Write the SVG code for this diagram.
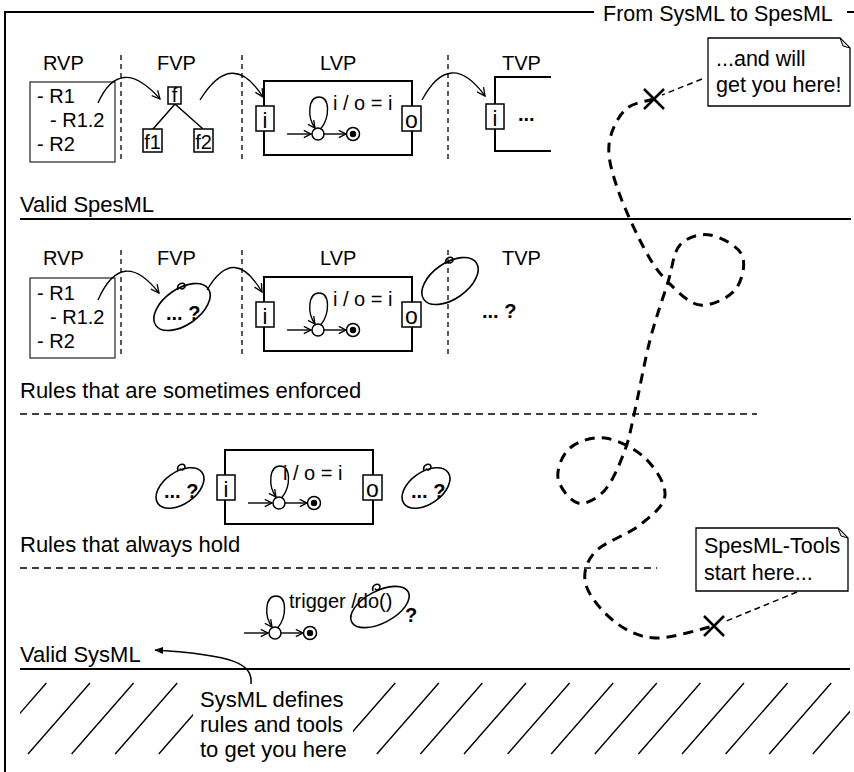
<svg xmlns="http://www.w3.org/2000/svg" xmlns:xlink="http://www.w3.org/1999/xlink" width="854" height="772" viewBox="0 0 854 772">
<style>
text { font-family: "Liberation Sans", Arial, sans-serif; fill: #000; }
.t22 { font-size: 22px; }
.tn { font-size: 21.5px; }
.t20 { font-size: 20px; }
.pi { font-size: 22px; }
.po { font-size: 23px; }
.b { font-weight: bold; }
.frame { fill: none; stroke: #000; stroke-width: 2; }
.sep { fill: none; stroke: #000; stroke-width: 2; }
.dsep { fill: none; stroke: #000; stroke-width: 1.5; stroke-dasharray: 7 5; }
.vdash { fill: none; stroke: #000; stroke-width: 1.3; stroke-dasharray: 5 4; }
.rbox { fill: none; stroke: #222; stroke-width: 1.2; }
.box { fill: #fff; stroke: #000; stroke-width: 1.5; }
.lbox { fill: none; stroke: #000; stroke-width: 2; }
.port { fill: #fff; stroke: #000; stroke-width: 1.5; }
.ln { fill: none; stroke: #000; stroke-width: 1.5; }
.arc { fill: none; stroke: #000; stroke-width: 1.3; marker-end: url(#open); }
.sma { fill: none; stroke: #000; stroke-width: 1.4; marker-end: url(#small); }
.st { fill: #fff; stroke: #000; stroke-width: 1.5; }
.path { fill: none; stroke: #000; stroke-width: 3; stroke-dasharray: 10 7; }
.thin { fill: none; stroke: #000; stroke-width: 1.5; stroke-dasharray: 6 4; }
.xm { fill: none; stroke: #000; stroke-width: 2.5; }
.blob { fill: none; stroke: #000; stroke-width: 1.6; }
.hatch { stroke: #000; stroke-width: 1.4; }
.note { fill: #fff; stroke: #000; stroke-width: 1.3; }
.fold { fill: #ddd; stroke: #000; stroke-width: 1; }
</style>
<defs>
  <marker id="open" viewBox="0 0 10 10" refX="9" refY="5" markerWidth="10" markerHeight="10" markerUnits="userSpaceOnUse" orient="auto">
    <path d="M1,1 L9,5 L1,9" fill="none" stroke="#000" stroke-width="1.3"/>
  </marker>
  <marker id="small" viewBox="0 0 10 10" refX="9" refY="5" markerWidth="9" markerHeight="9" markerUnits="userSpaceOnUse" orient="auto">
    <path d="M1,1 L9,5 L1,9" fill="none" stroke="#000" stroke-width="1.5"/>
  </marker>
  <marker id="solid" viewBox="0 0 10 10" refX="9" refY="5" markerWidth="9" markerHeight="9" markerUnits="userSpaceOnUse" orient="auto">
    <path d="M0,1 L10,5 L0,9 Z" fill="#000"/>
  </marker>
  <clipPath id="hc"><rect x="20" y="672" width="830" height="100"/></clipPath>
  <g id="sm">
    <path class="sma" d="M23,53 H47"/>
    <path class="sma" d="M57,47.5 C66,36 66,16 55,16 C44,16 43,36 51,47"/>
    <circle class="st" cx="54" cy="53" r="6"/>
    <path class="sma" d="M60,53 H82"/>
    <circle class="st" cx="89" cy="53" r="6.5"/>
    <circle cx="89" cy="53" r="3.2" fill="#000"/>
  </g>
  <g id="lvpshape">
    <rect class="lbox" x="0" y="0" width="148" height="74"/>
    <rect class="port" x="-8" y="25" width="18" height="25"/>
    <rect class="port" x="138" y="25" width="19" height="25"/>
    <use xlink:href="#sm" href="#sm"/>
  </g>
  <path id="curl" class="blob" d="M-4,-17 C-6,-24 3,-26 3,-21 C3,-18 -1,-17 -2,-19.5"/>
</defs>

<!-- frame -->
<g id="frame">
  <path class="frame" d="M5,772 V12 H594"/>
  <path class="frame" d="M847,12 H854"/>
  <text class="tn" x="603" y="21">From SysML to SpesML</text>
</g>

<!-- section separators -->
<g id="levels">
  <text class="t22" x="20" y="212">Valid SpesML</text>
  <path class="sep" d="M20,219 H851"/>
  <text class="t22" x="20" y="398">Rules that are sometimes enforced</text>
  <path class="dsep" d="M20,414 H757"/>
  <text class="t22" x="20" y="552">Rules that always hold</text>
  <path class="dsep" d="M20,568 H657"/>
  <text class="t22" x="20" y="662">Valid SysML</text>
  <path class="sep" d="M20,669 H850"/>
</g>

<!-- viewpoint separators -->
<g id="viewpoint-lines">
  <path class="vdash" d="M121,55 V163 M242,55 V163 M448,55 V163"/>
  <path class="vdash" d="M121,250 V358 M242,250 V358 M448,250 V358"/>
</g>

<!-- Row 1: valid SpesML -->
<g id="rvp1">
  <text class="t20" x="43" y="70">RVP</text>
  <rect class="rbox" x="30" y="82" width="85" height="80"/>
  <text class="t20" x="37" y="103">- R1</text>
  <text class="t20" x="50" y="127">- R1.2</text>
  <text class="t20" x="37" y="151">- R2</text>
</g>
<g id="fvp1">
  <text class="t20" x="157" y="70">FVP</text>
  <path class="ln" d="M175,104 L153,129 M175,104 L203,129"/>
  <rect class="box" x="168" y="87" width="13" height="17"/>
  <text class="t20" x="174.5" y="102" text-anchor="middle">f</text>
  <rect class="box" x="143" y="129" width="19" height="23"/>
  <text class="t20" x="152.5" y="149" text-anchor="middle">f1</text>
  <rect class="box" x="194" y="129" width="19" height="23"/>
  <text class="t20" x="203.5" y="149" text-anchor="middle">f2</text>
</g>
<g id="lvp1">
  <text class="t20" x="320" y="70">LVP</text>
  <use xlink:href="#lvpshape" href="#lvpshape" x="264" y="81"/>
  <text class="pi" x="265" y="128" text-anchor="middle">i</text>
  <text class="po" x="411.5" y="128" text-anchor="middle">o</text>
  <text class="t20" x="333" y="110">i / o = i</text>
</g>
<g id="tvp1">
  <text class="t20" x="502" y="70">TVP</text>
  <path class="lbox" d="M551,77 H495 V151 H551"/>
  <rect class="port" x="486" y="104" width="18" height="25"/>
  <text class="pi" x="495" y="126" text-anchor="middle">i</text>
  <text class="t20 b" x="518" y="121">...</text>
</g>

<!-- Row 2: sometimes enforced -->
<g id="rvp2">
  <text class="t20" x="43" y="265">RVP</text>
  <rect class="rbox" x="30" y="278" width="85" height="80"/>
  <text class="t20" x="37" y="300">- R1</text>
  <text class="t20" x="50" y="324">- R1.2</text>
  <text class="t20" x="37" y="348">- R2</text>
</g>
<g id="fvp2">
  <text class="t20" x="157" y="265">FVP</text>
  <g transform="translate(182,307)">
    <ellipse class="blob" rx="32" ry="18" transform="rotate(-35)"/>
    <use xlink:href="#curl" href="#curl"/>
  </g>
  <text class="t20 b" x="166" y="320">... ?</text>
</g>
<g id="lvp2">
  <text class="t20" x="320" y="265">LVP</text>
  <use xlink:href="#lvpshape" href="#lvpshape" x="264" y="277"/>
  <text class="pi" x="265" y="324" text-anchor="middle">i</text>
  <text class="po" x="411.5" y="324" text-anchor="middle">o</text>
  <text class="t20" x="333" y="306">i / o = i</text>
</g>
<g id="tvp2">
  <text class="t20" x="502" y="265">TVP</text>
  <g transform="translate(450,281)">
    <ellipse class="blob" rx="32" ry="18" transform="rotate(-35)"/>
    <use xlink:href="#curl" href="#curl"/>
  </g>
  <text class="t20 b" x="482" y="318">... ?</text>
</g>

<!-- Row 3: always hold -->
<g id="blob3a">
  <g transform="translate(180,488)">
    <ellipse class="blob" rx="27" ry="16" transform="rotate(-35)"/>
    <use xlink:href="#curl" href="#curl" x="2" y="0"/>
  </g>
  <text class="t20 b" x="164" y="498">... ?</text>
</g>
<g id="lvp3">
  <use xlink:href="#lvpshape" href="#lvpshape" x="225" y="450"/>
  <text class="pi" x="226" y="497" text-anchor="middle">i</text>
  <text class="po" x="372.5" y="497" text-anchor="middle">o</text>
  <text class="t20" x="283" y="480">i / o = i</text>
</g>
<g id="blob3b">
  <g transform="translate(426,488)">
    <ellipse class="blob" rx="27" ry="16" transform="rotate(-35)"/>
    <use xlink:href="#curl" href="#curl" x="2" y="0"/>
  </g>
  <text class="t20 b" x="411" y="498">... ?</text>
</g>

<!-- Row 4: valid SysML state machine -->
<g id="sm4">
  <use xlink:href="#sm" href="#sm" x="221" y="580"/>
  <text class="t20" x="289" y="608">trigger /do()</text>
  <g transform="translate(380,607)">
    <ellipse class="blob" rx="32" ry="16" transform="rotate(-28)"/>
    <use xlink:href="#curl" href="#curl" x="-3" y="1"/>
  </g>
  <text class="t20 b" x="405" y="622">?</text>
</g>

<!-- hatched ground -->
<g id="ground">
  <g clip-path="url(#hc)">
    <path class="hatch" d="M-15.6,754 L46.4,683 M28,754 L90,683 M71.6,754 L133.6,683 M115.2,754 L177.2,683 M158.8,754 L220.8,683 M202.4,754 L264.4,683 M246,754 L308,683 M289.6,754 L351.6,683 M333.2,754 L395.2,683 M376.8,754 L438.8,683 M420.4,754 L482.4,683 M464,754 L526,683 M507.6,754 L569.6,683 M551.2,754 L613.2,683 M594.8,754 L656.8,683 M638.4,754 L700.4,683 M682,754 L744,683 M725.6,754 L787.6,683 M769.2,754 L831.2,683 M812.8,754 L874.8,683"/>
  </g>
  <rect x="193" y="674" width="160" height="98" fill="#fff"/>
  <text class="t22" x="200" y="707">SysML defines</text>
  <text class="t22" x="200" y="732">rules and tools</text>
  <text class="t22" x="200" y="757">to get you here</text>
</g>

<!-- notes -->
<g id="note-top">
  <path class="note" d="M708,38 H840 L850,48 V106 H708 Z"/>
  <path class="fold" d="M840,38 L843,46 L850,48 Z"/>
  <text class="tn" x="716" y="66">...and will</text>
  <text class="tn" x="716" y="92">get you here!</text>
</g>
<g id="note-bottom">
  <path class="note" d="M696,528 H838 L848,538 V591 H696 Z"/>
  <path class="fold" d="M838,528 L841,536 L848,538 Z"/>
  <text class="tn" x="704" y="553">SpesML-Tools</text>
  <text class="tn" x="704" y="580">start here...</text>
</g>

<!-- connectors -->
<g id="connectors">
  <path class="arc" d="M98,103 Q120,54 160,99"/>
  <path class="arc" d="M200,100 Q232,48 263,97"/>
  <path class="arc" d="M422,100 Q450,48 485,96"/>
  <path class="arc" d="M98,300 Q122,246 159,293"/>
  <path class="arc" d="M207,290 Q234,244 262,292"/>
  <path class="ln" style="marker-end:url(#solid)" d="M251,684 C253,664 235,655 155,650"/>
  <path class="thin" d="M702,79 L662,95"/>
  <path class="thin" d="M797,592 L724,622"/>
  <path class="xm" d="M644,89 L664,109 M644,109 L664,89"/>
  <path class="xm" d="M704,616 L724,636 M704,636 L724,616"/>
  <path class="path" d="M654,99 C649.2,100.8 632.5,102.3 625,110 C617.5,117.7 610.2,131.7 609,145 C607.8,158.3 612,172.5 618,190 C624,207.5 636.7,234.7 645,250 C653.3,265.3 658.8,272.8 668,282 C677.2,291.2 688.8,303.7 700,305 C711.2,306.3 728,298.3 735,290 C742,281.7 746.2,264.2 742,255 C737.8,245.8 720.3,236.7 710,235 C699.7,233.3 687,237.2 680,245 C673,252.8 673,266.2 668,282 C663,297.8 655.5,318.7 650,340 C644.5,361.3 639.2,391.7 635,410 C630.8,428.3 630,436.7 625,450 C620,463.3 612.8,481.2 605,490 C597.2,498.8 585.8,505 578,503 C570.2,501 559.3,487.2 558,478 C556.7,468.8 562.2,454.7 570,448 C577.8,441.3 592.5,436.3 605,438 C617.5,439.7 635,448.5 645,458 C655,467.5 665.8,483.8 665,495 C664.2,506.2 651.7,515.5 640,525 C628.3,534.5 604,542 595,552 C586,562 582.7,573.3 586,585 C589.3,596.7 603.5,613.2 615,622 C626.5,630.8 639.2,637.2 655,638 C670.8,638.8 700.8,628.8 714,626"/>
</g>
</svg>
